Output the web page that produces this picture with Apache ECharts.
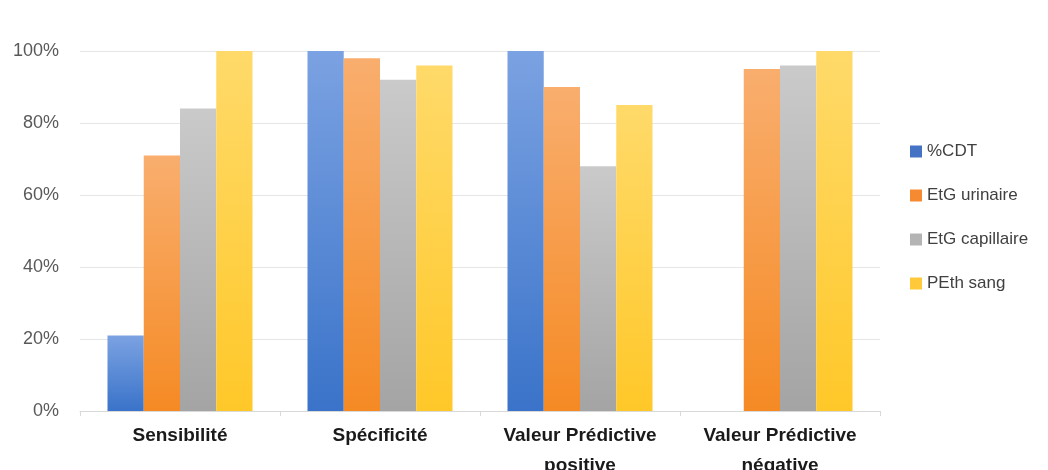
<!DOCTYPE html>
<html><head><meta charset="utf-8">
<script src="https://cdn.jsdelivr.net/npm/echarts@6/dist/echarts.min.js"></script>
<style>html,body{margin:0;padding:0;background:#fff}#c{width:1048px;height:470px}</style>
</head><body><div id="c"></div>
<script>
const categories = ['Sensibilité', 'Spécificité', 'Valeur Prédictive\npositive', 'Valeur Prédictive\nnégative'];
const seriesNames = ['%CDT', 'EtG urinaire', 'EtG capillaire', 'PEth sang'];
const cdt = [21, 100, 100, null];
const etgUrinaire = [71, 98, 90, 95];
const etgCapillaire = [84, 92, 68, 96];
const pethSang = [100, 96, 85, 100];
const yTicks = [0, 20, 40, 60, 80, 100];

const values = [cdt, etgUrinaire, etgCapillaire, pethSang];
const grads = [['#7ba2e2', '#3a73c9'], ['#f9ae6e', '#f58a24'], ['#cacaca', '#a4a4a4'], ['#ffda6a', '#ffc829']];
const legendColors = ['#4472c4', '#f58a30', '#b4b4b4', '#ffc93a'];

const chart = echarts.init(document.getElementById('c'));
chart.setOption({
  animation: false,
  grid: { left: 80, right: 168, top: 51, bottom: 59, outerBoundsMode: 'none', containLabel: false },
  legend: {
    orient: 'vertical', left: 905, top: 138, itemWidth: 12, itemHeight: 12, itemGap: 27, icon: 'rect',
    textStyle: { fontFamily: 'Liberation Sans', fontSize: 17, color: '#404040', padding: [0, 0, 0, 0] },
    data: seriesNames.map((n, i) => ({ name: n, itemStyle: { color: legendColors[i] } }))
  },
  xAxis: {
    type: 'category', data: categories,
    axisLine: { lineStyle: { color: '#d9d9d9' } },
    axisTick: { show: true, length: 5, lineStyle: { color: '#d9d9d9' } },
    axisLabel: { margin: 10, fontFamily: 'Liberation Sans', fontWeight: 'bold', fontSize: 19, color: '#1a1a1a', lineHeight: 30 }
  },
  yAxis: {
    type: 'value', min: 0, max: 100, interval: 20,
    axisLabel: { formatter: v => yTicks.includes(v) ? v + '%' : '', fontFamily: 'Liberation Sans', fontSize: 18, color: '#595959', margin: 21 },
    splitLine: { lineStyle: { color: '#e6e6e6' } },
    axisLine: { show: false }, axisTick: { show: false }
  },
  series: values.map((d, i) => ({
    name: seriesNames[i], type: 'bar', data: d, barGap: '0%', barCategoryGap: '27.5%',
    itemStyle: { color: new echarts.graphic.LinearGradient(0, 0, 0, 1, [{ offset: 0, color: grads[i][0] }, { offset: 1, color: grads[i][1] }]) }
  }))
});
</script></body></html>
